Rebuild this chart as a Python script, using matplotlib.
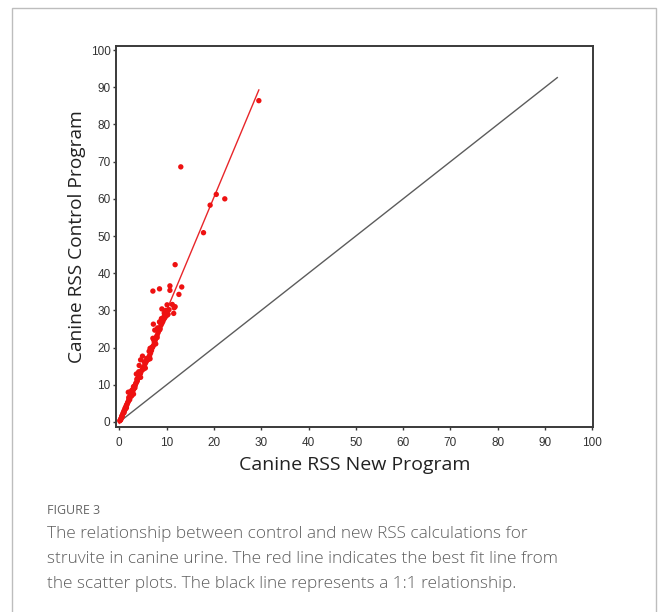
import numpy as np
import matplotlib
matplotlib.use("Agg")
import matplotlib.pyplot as plt
from matplotlib.patches import Rectangle

# RSS values for struvite: new program (x) vs control program (y)
new_program = [
    0.1, 0.2, 0.3, 0.4, 0.5, 0.6, 0.7, 0.8, 0.9, 1.0, 1.1, 1.2, 1.3, 1.4, 1.5,
    1.6, 1.7, 1.8, 1.9, 2.0, 2.1, 2.2, 2.3, 2.4, 2.5, 2.6, 2.7, 2.8, 2.9, 3.0,
    3.1, 3.2, 3.3, 3.4, 3.5, 3.6, 3.8, 3.9, 4.0, 4.2, 4.3, 4.5, 4.6, 4.8, 5.0,
    5.2, 5.4, 5.6, 5.8, 6.0, 6.2, 6.4, 6.6, 6.8, 7.0, 7.2, 7.4, 7.6, 7.8, 8.0,
    8.2, 8.4, 8.6, 8.8, 9.0, 9.2, 9.4, 9.6, 9.8, 10.0, 10.3,
    1.5, 1.9, 2.3, 3.0, 3.6, 4.1, 4.2, 4.5, 4.9, 5.8, 6.5, 6.9, 7.1, 8.0, 7.5,
    7.2, 8.6, 9.5, 10.2, 9.0, 10.1, 11.2, 11.6, 11.5, 9.8, 8.5, 8.6, 3.0, 4.5,
    5.5, 6.5, 9.5, 9.8, 10.5, 0.3, 0.6, 1.0, 1.3, 2.2, 2.6, 3.3, 5.1, 6.1, 7.7,
    2.0, 2.7, 3.7, 4.4, 5.3, 6.3, 7.3, 8.1, 8.9,
    7.1, 8.5, 10.7, 10.7, 13.2, 12.6, 11.8, 11.8,
    13.0, 17.8, 19.2, 20.5, 22.3, 29.5,
]
control_program = [
    0.3, 0.5, 0.8, 1.0, 1.5, 1.7, 2.0, 2.4, 2.6, 3.0, 3.1, 3.6, 3.9, 4.0, 4.5,
    4.6, 5.0, 5.3, 5.5, 5.9, 6.3, 6.5, 6.8, 7.0, 7.4, 7.7, 8.0, 8.2, 8.6, 8.8,
    9.0, 9.5, 9.8, 10.0, 10.4, 10.6, 11.0, 11.6, 12.0, 12.3, 12.8, 13.2, 13.6, 14.0, 14.6,
    14.8, 15.5, 16.0, 16.5, 17.0, 17.3, 17.8, 18.5, 19.2, 20.0, 20.5, 21.3, 22.0, 22.8, 23.3,
    24.0, 24.6, 25.2, 26.0, 26.5, 27.0, 27.6, 28.0, 28.4, 28.7, 29.0,
    3.8, 8.0, 8.1, 9.5, 12.9, 13.5, 15.2, 16.7, 17.7, 17.1, 19.8, 20.1, 22.5, 22.7, 24.7,
    26.3, 26.9, 28.5, 28.8, 30.4, 31.5, 31.6, 30.7, 29.2, 30.0, 26.9, 24.9, 7.5, 12.0,
    14.5, 17.0, 29.3, 29.6, 30.2, 0.6, 1.4, 2.5, 3.5, 6.0, 7.0, 9.2, 14.2, 16.8, 21.0,
    6.6, 8.6, 11.5, 13.0, 16.2, 19.0, 22.0, 25.3, 27.8,
    35.2, 35.8, 36.6, 35.4, 36.3, 34.3, 42.3, 31.0,
    68.6, 50.9, 58.3, 61.2, 60.0, 86.4,
]

# best fit line (red) and 1:1 reference line (black)
fit_slope = 3.04
fit_intercept = -0.4
fit_x = [0.0, 29.5]
identity_x = [0.0, 92.6]

fig = plt.figure(figsize=(6.58, 6.12), dpi=100)
ax = fig.add_axes([116 / 658, 1 - 427 / 612, (593 - 116) / 658, (427 - 46) / 612])

ax.plot(identity_x, identity_x, color="#5c5c5c", lw=1.0, zorder=2)
fit_y = [fit_slope * v + fit_intercept for v in fit_x]
ax.plot(fit_x, fit_y, color="#e8262a", lw=1.0, zorder=3)
ax.scatter(new_program, control_program, s=15, color="#ee1111",
           edgecolors="none", zorder=4)

ax.set_xlim(-0.7, 100.15)
ax.set_ylim(-1.35, 101.1)
ax.set_xticks(np.arange(0, 101, 10))
ax.set_yticks(np.arange(0, 101, 10))

for s in ax.spines.values():
    s.set_color("#3a3a3a")
    s.set_linewidth(1.4)

ax.tick_params(direction="out", length=2.5, width=1, color="#3a3a3a",
               labelsize=8.5, labelcolor="#333333")
ax.tick_params(axis="x", pad=5)
ax.tick_params(axis="y", pad=1.5)
for lab in ax.get_xticklabels() + ax.get_yticklabels():
    lab.set_family("Liberation Sans")

ax.set_xlabel("Canine RSS New Program", family="Open Sans", fontsize=14,
              color="#222222", labelpad=5)
ax.set_ylabel("Canine RSS Control Program", family="Open Sans", fontsize=13.8,
              color="#222222", labelpad=3)

# page frame around figure and caption
fig.add_artist(Rectangle((12 / 658, -0.02), (656 - 12) / 658, (612 - 8) / 612 + 0.02,
                         transform=fig.transFigure, fill=False,
                         edgecolor="#bdbdbd", lw=1.0))

cap_x = 47 / 658
fig.text(cap_x, 1 - 514 / 612, "FIGURE 3", family="Open Sans", fontsize=9,
         color="#666666", va="baseline")
caption = [
    "The relationship between control and new RSS calculations for",
    "struvite in canine urine. The red line indicates the best fit line from",
    "the scatter plots. The black line represents a 1:1 relationship.",
]
for i, line in enumerate(caption):
    fig.text(cap_x, 1 - (538 + 25 * i) / 612, line, family="Open Sans",
             fontweight="light", fontsize=12.4, color="#5e5e5e", va="baseline")

fig.savefig("out.png", dpi=100)
